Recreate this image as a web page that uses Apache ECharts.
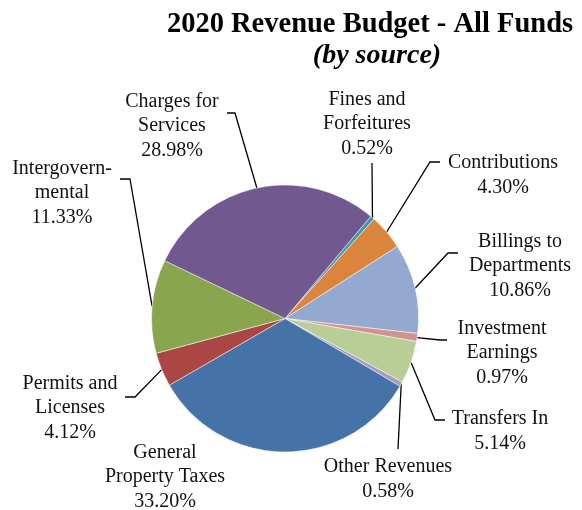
<!DOCTYPE html>
<html>
<head>
<meta charset="utf-8">
<script src="https://cdn.jsdelivr.net/npm/echarts@6/dist/echarts.min.js"></script>
<style>
  html, body { margin: 0; padding: 0; background: #ffffff; }
  #chart { width: 582px; height: 510px; }
</style>
</head>
<body>
<div id="chart"></div>
<script>
// Revenue sources, in clockwise order from the Fines slice
const categories = [
  'Fines and\nForfeitures',
  'Contributions',
  'Billings to\nDepartments',
  'Investment\nEarnings',
  'Transfers In',
  'Other Revenues',
  'General\nProperty Taxes',
  'Permits and\nLicenses',
  'Intergovern-\nmental',
  'Charges for\nServices'
];

// Share of the 2020 budget, percent
const shares = [0.52, 4.30, 10.86, 0.97, 5.14, 0.58, 33.20, 4.12, 11.33, 28.98];

const sliceColors = [
  '#4198AF', '#DB843D', '#93A9CF', '#D19392', '#B9CD96',
  '#A99BBD', '#4572A7', '#AA4643', '#89A54E', '#71588F'
];

// Where each label sits, plus the elbow and end of its leader line
const labelSpots = [
  { x: 367, y: 124, bend: [372, 165], end: [372, 163] },
  { x: 503, y: 175, bend: [430, 162], end: [440, 162] },
  { x: 520, y: 266, bend: [448, 253], end: [458, 253] },
  { x: 502, y: 353, bend: [440, 340], end: [447, 340] },
  { x: 500, y: 431, bend: [435, 420], end: [445, 420] },
  { x: 388, y: 479, bend: [398, 449], end: [398, 447] },
  { x: 165, y: 477, bend: null, end: null },
  { x: 70,  y: 408, bend: [135, 397], end: [125, 397] },
  { x: 62,  y: 193, bend: [130, 179], end: [120, 179] },
  { x: 172, y: 126, bend: [235, 113], end: [227, 113] }
];

const serif = '"Liberation Serif", "DejaVu Serif", serif';

const pieData = categories.map((name, i) => {
  const item = { name: name, value: shares[i], itemStyle: { color: sliceColors[i] } };
  if (!labelSpots[i].end) item.labelLine = { show: false };
  return item;
});

const chart = echarts.init(document.getElementById('chart'), null, { renderer: 'canvas' });

chart.setOption({
  backgroundColor: '#ffffff',
  animation: false,
  title: [
    {
      text: '2020 Revenue Budget - All Funds',
      left: 370, top: 11, textAlign: 'center', padding: 0,
      textStyle: { fontFamily: serif, fontWeight: 'bold', fontSize: 28.5, color: '#000', lineHeight: 28 }
    },
    {
      text: '(by source)',
      left: 377, top: 42, textAlign: 'center', padding: 0,
      textStyle: { fontFamily: serif, fontWeight: 'bold', fontStyle: 'italic', fontSize: 28, color: '#000', lineHeight: 28 }
    }
  ],
  series: [{
    type: 'pie',
    center: [285, 318.5],
    radius: 133.5,
    startAngle: 50,
    clockwise: true,
    avoidLabelOverlap: false,
    itemStyle: { borderColor: '#ffffff', borderWidth: 0.5 },
    label: {
      show: true,
      position: 'outside',
      fontFamily: serif,
      fontSize: 20,
      lineHeight: 24.5,
      color: '#111',
      align: 'center',
      formatter: p => p.name + '\n' + p.value.toFixed(2) + '%'
    },
    labelLine: {
      show: true,
      length: 20,
      length2: 10,
      lineStyle: { color: '#000', width: 1.3 }
    },
    labelLayout: function (params) {
      const spot = labelSpots[params.dataIndex];
      const out = { x: spot.x, y: spot.y, align: 'center', verticalAlign: 'middle' };
      if (spot.end && params.labelLinePoints) {
        out.labelLinePoints = [params.labelLinePoints[0], spot.bend, spot.end];
      }
      return out;
    },
    data: pieData
  }]
});
</script>
</body>
</html>
